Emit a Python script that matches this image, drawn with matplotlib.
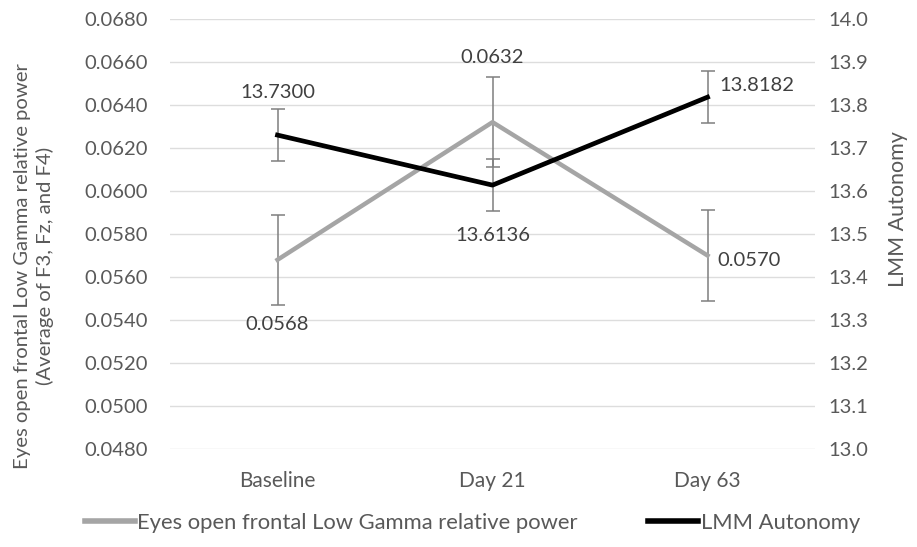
import matplotlib.pyplot as plt

plt.rcParams["font.family"] = ["Lato", "DejaVu Sans"]

# values per time point
timepoints = ["Baseline", "Day 21", "Day 63"]
gamma_power = [0.0568, 0.0632, 0.0570]
gamma_err = [0.0021, 0.0021, 0.0021]
autonomy = [13.7300, 13.6136, 13.8182]
autonomy_err = [0.06, 0.06, 0.06]

left_ticks = [0.048 + 0.002 * i for i in range(11)]
right_ticks = [13.0 + 0.1 * i for i in range(11)]

text_col = "#595959"
gray_col = "#A5A5A5"
err_col = "#7F7F7F"

fig = plt.figure(figsize=(9.17, 5.47), dpi=100)
ax = fig.add_axes([0.1854, 0.1792, 0.7034, 0.7861])
ax2 = ax.twinx()

x = list(range(len(timepoints)))

ax.errorbar(x, gamma_power, yerr=gamma_err, color=gray_col, lw=3.2,
            ecolor=err_col, elinewidth=1.1, capsize=5, capthick=1.1, zorder=3)
ax2.errorbar(x, autonomy, yerr=autonomy_err, color="black", lw=3.4,
             ecolor=err_col, elinewidth=1.1, capsize=5, capthick=1.1, zorder=3)

ax.set_xlim(-0.5, 2.5)
ax.set_ylim(0.048, 0.068)
ax2.set_ylim(13.0, 14.0)
ax.set_yticks(left_ticks)
ax.set_yticklabels([f"{t:.4f}" for t in left_ticks])
ax2.set_yticks(right_ticks)
ax2.set_yticklabels([f"{t:.1f}" for t in right_ticks])
ax.set_xticks(x)
ax.set_xticklabels(timepoints)

ax.grid(axis="y", color="#DDDDDD", lw=1)
ax.set_axisbelow(True)
for a in (ax, ax2):
    for s in a.spines.values():
        s.set_visible(False)
    a.tick_params(length=0, colors=text_col, labelsize=14.5)
ax.tick_params(axis="y", pad=16)
ax.tick_params(axis="x", pad=16, labelsize=15)
ax2.tick_params(axis="y", pad=9.5)

fig.text(34 / 917, 1 - 266 / 547,
         "Eyes open frontal Low Gamma relative power\n(Average of F3, Fz, and F4)",
         rotation=90, ha="center", va="center", ma="center",
         color=text_col, fontsize=14.6, linespacing=1.3)
fig.text(898 / 917, 1 - 209 / 547, "LMM Autonomy", rotation=90,
         ha="center", va="center", color=text_col, fontsize=15.5)

# value labels
lab = dict(color="#404040", fontsize=14.5, textcoords="offset pixels")
ax.annotate(f"{gamma_power[0]:.4f}", (0, gamma_power[0]), xytext=(0, -65), ha="center", va="center", **lab)
ax.annotate(f"{gamma_power[1]:.4f}", (1, gamma_power[1]), xytext=(0, 65), ha="center", va="center", **lab)
ax.annotate(f"{gamma_power[2]:.4f}", (2, gamma_power[2]), xytext=(10, -5), ha="left", va="center", **lab)
ax2.annotate(f"{autonomy[0]:.4f}", (0, autonomy[0]), xytext=(0, 43), ha="center", va="center", **lab)
ax2.annotate(f"{autonomy[1]:.4f}", (1, autonomy[1]), xytext=(0, -50), ha="center", va="center", **lab)
ax2.annotate(f"{autonomy[2]:.4f}", (2, autonomy[2]), xytext=(12, 12), ha="left", va="center", **lab)

h1 = plt.Line2D([], [], color=gray_col, lw=4)
h2 = plt.Line2D([], [], color="black", lw=4)
fig.legend([h1, h2], ["Eyes open frontal Low Gamma relative power", "LMM Autonomy"],
           loc="center", bbox_to_anchor=(0.515, 1 - 523 / 547), ncol=2, frameon=False,
           fontsize=15.8, labelcolor=text_col, handlelength=2.3, handletextpad=0.1,
           columnspacing=3.2)

fig.savefig("out.png", dpi=100, facecolor="white")
